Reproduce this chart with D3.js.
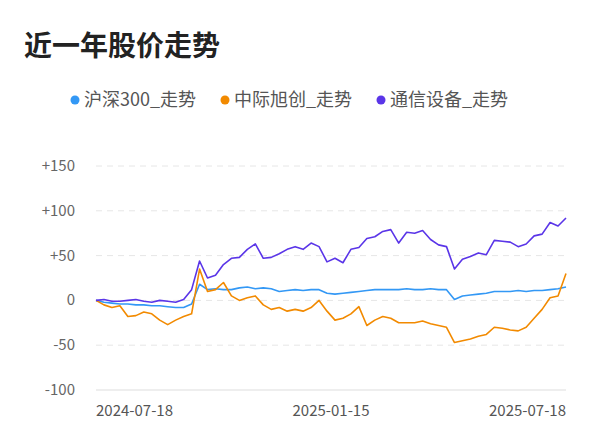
<!DOCTYPE html>
<html><head><meta charset="utf-8">
<script src="https://cdn.jsdelivr.net/npm/d3@7"></script>
<style>body{margin:0;background:#fff}</style>
</head><body><div></div>
<script>
const width = 600, height = 446
const names = ["沪深300_走势", "中际旭创_走势", "通信设备_走势"]
const colors = ["#3398f5", "#f28a00", "#5a35e8"]
const yTicks = [150, 100, 50, 0, -50, -100]
const xLabels = ["2024-07-18", "2025-01-15", "2025-07-18"]
const hs300 = [0,-2,-3,-4,-4,-5,-5,-6,-6,-7,-8,-8,-4,18,12,13,12,12,14,15,13,14,13,10,11,12,11,12,12,8,7,8,9,10,11,12,12,12,12,13,12,12,13,12,12,1,5,6,7,8,10,10,10,11,10,11,11,12,13,15]
const zjxc = [0,-5,-8,-6,-18,-17,-13,-15,-22,-27,-22,-18,-15,35,10,12,20,5,0,3,5,-5,-10,-8,-12,-10,-12,-8,0,-12,-22,-20,-15,-7,-28,-22,-18,-20,-25,-25,-25,-23,-26,-28,-30,-47,-45,-43,-40,-38,-30,-31,-33,-34,-30,-20,-10,3,5,30]
const txsb = [0,1,-1,-1,0,1,-1,-2,0,-1,-2,1,12,44,25,28,40,47,48,57,63,47,48,52,57,60,57,64,60,43,47,42,57,59,69,71,77,79,64,76,75,78,68,62,60,35,46,49,53,51,67,66,65,60,63,72,74,87,83,92]
const series = [hs300, zjxc, txsb]

const svg = d3.select("div").append("svg").attr("width", width).attr("height", height)
const font = "'Noto Sans CJK SC', 'Noto Sans', sans-serif"

svg.append("text").attr("x", 24).attr("y", 56).text("近一年股价走势")
	.attr("font-family", font).attr("font-size", 28).attr("font-weight", "bold").attr("fill", "#222")

// legend
const lx = [70, 220, 376]
names.forEach((n, i) => {
	svg.append("circle").attr("cx", lx[i] + 5).attr("cy", 100).attr("r", 4.5).attr("fill", colors[i])
	svg.append("text").attr("x", lx[i] + 14).attr("y", 106).text(n)
		.attr("font-family", font).attr("font-size", 18).attr("fill", "#555")
})

const x = d3.scaleLinear().domain([0, hs300.length - 1]).range([96, 566])
const y = d3.scaleLinear().domain([-100, 150]).range([390, 166])

// grid
svg.selectAll().data(yTicks).enter().append("line")
	.attr("x1", 96).attr("x2", 566).attr("y1", d => y(d)).attr("y2", d => y(d))
	.attr("stroke", d => d == -100 ? "#ddd" : "#e6e6e6")
	.attr("stroke-dasharray", d => d == -100 ? null : "6,5")
svg.selectAll().data(yTicks).enter().append("text")
	.attr("x", 75).attr("y", d => y(d) + 5).attr("text-anchor", "end")
	.text(d => d > 0 ? "+" + d : d)
	.attr("font-family", font).attr("font-size", 15).attr("fill", "#666")
const xl = [[96, "start"], [331, "middle"], [566, "end"]]
svg.selectAll().data(xLabels).enter().append("text")
	.attr("x", (d, i) => xl[i][0]).attr("y", 416).attr("text-anchor", (d, i) => xl[i][1])
	.text(d => d).attr("font-family", font).attr("font-size", 15).attr("fill", "#555")

const line = d3.line().x((d, i) => x(i)).y(d => y(d))
series.forEach((s, i) => {
	svg.append("path").attr("d", line(s)).attr("fill", "none")
		.attr("stroke", colors[i]).attr("stroke-width", 1.6).attr("stroke-linejoin", "round")
})
</script></body></html>
